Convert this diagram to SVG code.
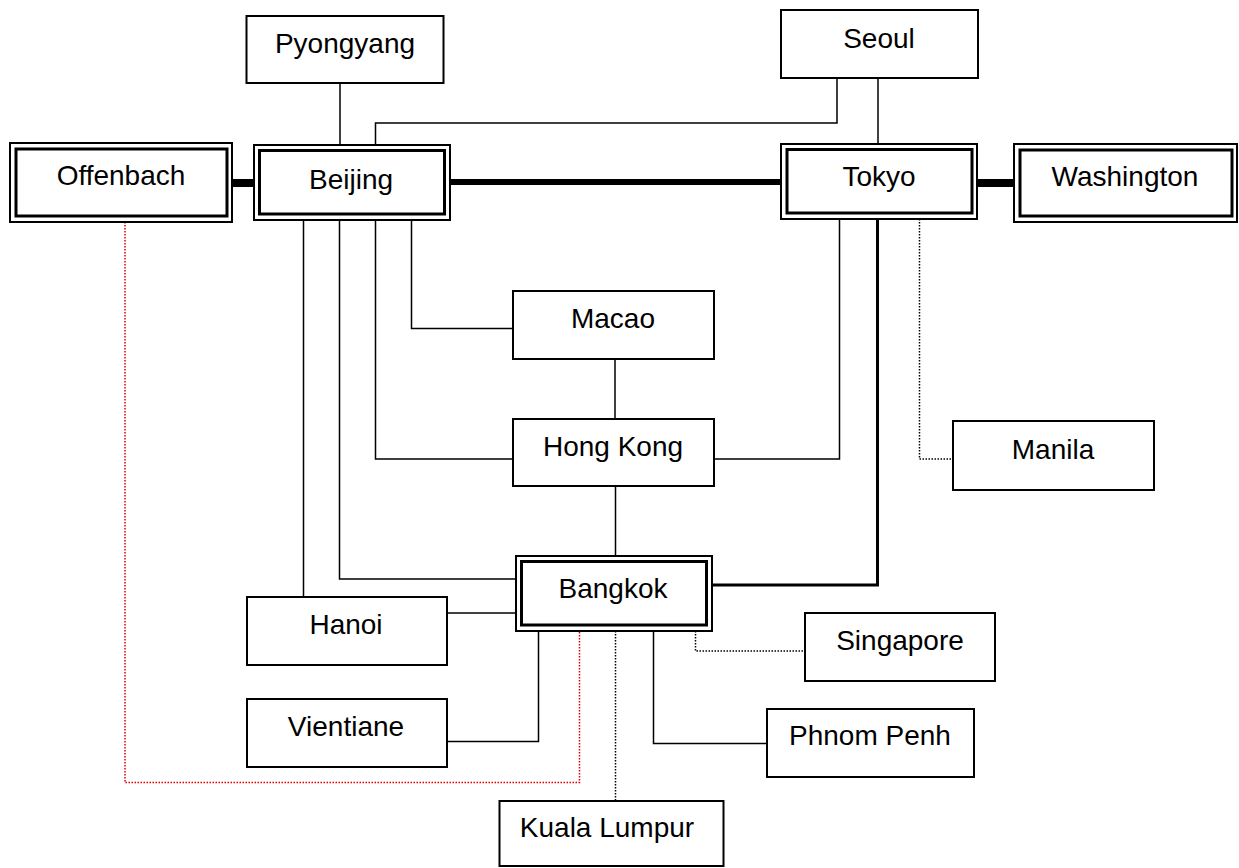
<svg xmlns="http://www.w3.org/2000/svg" width="1239" height="868" viewBox="0 0 1239 868">
<style>
.bg{fill:#fff}
.box{fill:#fff;stroke:#000;stroke-width:2}
.outer{fill:#fff;stroke:#000;stroke-width:2}
.inner{fill:none;stroke:#000;stroke-width:3}
.t{font-family:"Liberation Sans",Arial,sans-serif;font-size:28px;fill:#000;text-anchor:middle}
.ln{fill:none;stroke:#000;stroke-width:1.5}
.thick{fill:none;stroke:#000}
.dot{fill:none;stroke:#000;stroke-width:1.5;stroke-dasharray:1.5 1.5}
.red{fill:none;stroke:#e00000;stroke-width:1.5;stroke-dasharray:1.5 1.5}
</style>
<rect class="bg" x="0" y="0" width="1239" height="868"/>
<g id="connectors">
<path class="ln" d="M340,83 V145"/>
<path class="ln" d="M837,78 V123 H375.5 V145"/>
<path class="ln" d="M878,78 V144"/>
<path class="thick" stroke-width="8" d="M232,183 H254"/>
<path class="thick" stroke-width="6" d="M450,182 H781"/>
<path class="thick" stroke-width="8" d="M977,183 H1014"/>
<path class="ln" d="M303.5,220 V597"/>
<path class="ln" d="M339.5,220 V579 H516"/>
<path class="ln" d="M375.5,220 V459 H513"/>
<path class="ln" d="M411.5,220 V328.5 H513"/>
<path class="ln" d="M615,359 V419"/>
<path class="ln" d="M714,459 H839.5 V219"/>
<path class="ln" d="M615.5,486 V556"/>
<path class="thick" stroke-width="3" d="M877.5,219 V585 H712"/>
<path class="dot" d="M919.5,219 V459 H953"/>
<path class="ln" d="M447,613 H518"/>
<path class="ln" d="M538.5,631 V741.5 H447"/>
<path class="red" d="M125,222 V782.5 H579.5 V631"/>
<path class="dot" d="M615.5,631 V801"/>
<path class="ln" d="M653.5,631 V743.5 H767"/>
<path class="dot" d="M695.5,631 V651 H805"/>
</g>
<g id="offenbach">
<rect class="outer" x="10" y="143" width="222" height="79"/>
<rect class="inner" x="16" y="149" width="211" height="67"/>
<text class="t" x="121" y="185">Offenbach</text>
</g>
<g id="beijing">
<rect class="outer" x="254" y="145" width="196" height="75"/>
<rect class="inner" x="259.5" y="150.5" width="185" height="63.5"/>
<text class="t" x="351" y="189">Beijing</text>
</g>
<g id="tokyo">
<rect class="outer" x="781" y="144" width="196" height="75"/>
<rect class="inner" x="787" y="149.5" width="185" height="63.5"/>
<text class="t" x="879" y="186">Tokyo</text>
</g>
<g id="washington">
<rect class="outer" x="1014" y="144" width="223" height="78"/>
<rect class="inner" x="1020" y="150" width="212" height="66"/>
<text class="t" x="1125" y="186">Washington</text>
</g>
<g id="pyongyang">
<rect class="box" x="246.5" y="16" width="197" height="67"/>
<text class="t" x="345" y="53">Pyongyang</text>
</g>
<g id="seoul">
<rect class="box" x="781" y="10" width="197" height="68"/>
<text class="t" x="879" y="48">Seoul</text>
</g>
<g id="macao">
<rect class="box" x="513" y="291" width="201" height="68"/>
<text class="t" x="613" y="328">Macao</text>
</g>
<g id="hongkong">
<rect class="box" x="513" y="419" width="201" height="67"/>
<text class="t" x="613" y="456">Hong Kong</text>
</g>
<g id="manila">
<rect class="box" x="953" y="421" width="201" height="69"/>
<text class="t" x="1053" y="459">Manila</text>
</g>
<g id="bangkok">
<rect class="outer" x="516" y="556" width="196" height="75"/>
<rect class="inner" x="521.5" y="561.5" width="185" height="63.5"/>
<text class="t" x="613" y="598">Bangkok</text>
</g>
<g id="hanoi">
<rect class="box" x="247" y="597" width="200" height="68"/>
<text class="t" x="346" y="634">Hanoi</text>
</g>
<g id="vientiane">
<rect class="box" x="247" y="699" width="200" height="68"/>
<text class="t" x="346" y="736">Vientiane</text>
</g>
<g id="singapore">
<rect class="box" x="805" y="613" width="190" height="68"/>
<text class="t" x="900" y="650">Singapore</text>
</g>
<g id="phnompenh">
<rect class="box" x="767" y="709" width="207" height="68"/>
<text class="t" x="870" y="745">Phnom Penh</text>
</g>
<g id="kualalumpur">
<rect class="box" x="499.5" y="801" width="224" height="65"/>
<text class="t" x="607" y="837">Kuala Lumpur</text>
</g>
</svg>
